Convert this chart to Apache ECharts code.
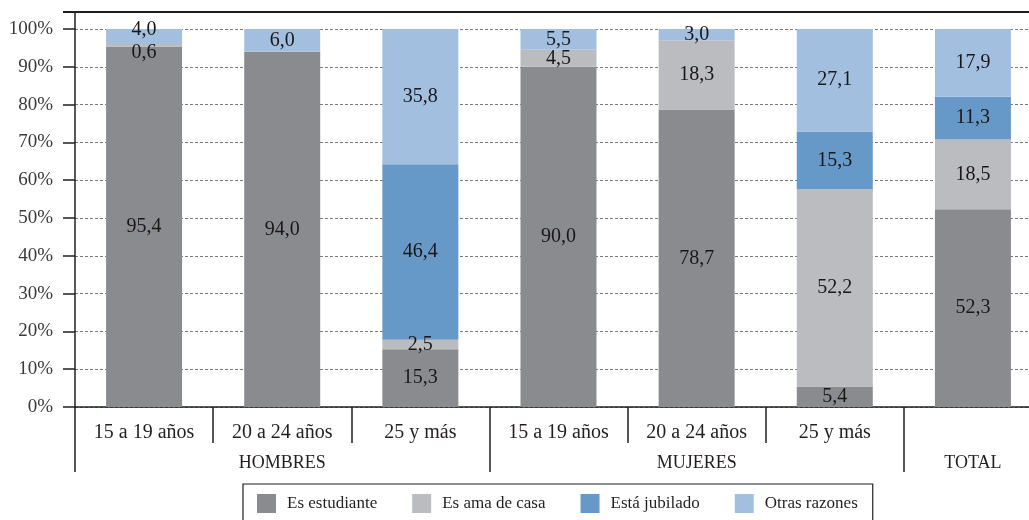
<!DOCTYPE html>
<html>
<head>
<meta charset="utf-8">
<script src="https://cdn.jsdelivr.net/npm/echarts@6/dist/echarts.min.js"></script>
<style>
html,body{margin:0;padding:0;background:#fff;}
#chart{width:1029px;height:520px;}
</style>
</head>
<body>
<div id="chart"></div>
<script>
// ---- data ----
const categories = ['15 a 19 años', '20 a 24 años', '25 y más', '15 a 19 años', '20 a 24 años', '25 y más', ''];
const groupLabels = ['', 'HOMBRES', '', '', 'MUJERES', '', 'TOTAL'];
const groupStarts = [0, 3, 6];
const seriesNames = ['Es estudiante', 'Es ama de casa', 'Está jubilado', 'Otras razones'];
const estudiante = [95.4, 94.0, 15.3, 90.0, 78.7, 5.4, 52.3];
const amaDeCasa = [0.6, 0, 2.5, 4.5, 18.3, 52.2, 18.5];
const jubilado = [0, 0, 46.4, 0, 0, 15.3, 11.3];
const otras = [4.0, 6.0, 35.8, 5.5, 3.0, 27.1, 17.9];
const yTicks = [0, 10, 20, 30, 40, 50, 60, 70, 80, 90, 100];

// ---- styling ----
const FONT = '"Liberation Serif", "DejaVu Serif", serif';
const colors = ['#8a8b8f', '#bbbcc0', '#6699c8', '#a3bfdf'];
const ink = '#231f20';
// small label nudges for the crowded first bar
const labelNudge = { '1-0': [0, 7], '3-0': [0, -7] };

const allValues = [estudiante, amaDeCasa, jubilado, otras];

function fmt(v) { return v.toFixed(1).replace('.', ','); }

const series = allValues.map((vals, si) => ({
  name: seriesNames[si],
  type: 'bar',
  stack: 'total',
  barWidth: 76,
  itemStyle: { color: colors[si] },
  data: vals.map((v, ci) => {
    const d = { value: v };
    const n = labelNudge[si + '-' + ci];
    if (n) d.label = { offset: n };
    return d;
  }),
  label: {
    show: true,
    position: 'inside',
    fontFamily: FONT,
    fontSize: 20,
    color: '#1a1718',
    formatter: p => (p.value ? fmt(p.value) : '')
  },
  emphasis: { disabled: true }
}));

const chart = echarts.init(document.getElementById('chart'), null, { renderer: 'canvas' });
chart.setOption({
  animation: false,
  backgroundColor: '#fff',
  grid: { left: 75, width: 967, top: 29, bottom: 113, containLabel: false, outerBoundsMode: 'none' },
  legend: {
    data: seriesNames,
    left: 243,
    top: 484,
    orient: 'horizontal',
    icon: 'rect',
    itemWidth: 19,
    itemHeight: 19,
    itemGap: 35,
    borderColor: ink,
    borderWidth: 1.2,
    padding: [10, 15, 20, 14],
    textStyle: { fontFamily: FONT, fontSize: 17, color: ink, padding: [0, 0, 0, 6] },
    selectedMode: false
  },
  xAxis: [
    {
      type: 'category',
      data: categories,
      position: 'bottom',
      axisLine: { show: true, lineStyle: { color: ink, width: 1.5 } },
      axisTick: { show: true, length: 36, inside: false, lineStyle: { color: ink, width: 1.5 } },
      axisLabel: { interval: 0, margin: 16, fontFamily: FONT, fontSize: 20, color: ink },
      splitLine: { show: false }
    },
    {
      type: 'category',
      data: groupLabels,
      position: 'bottom',
      gridIndex: 0,
      axisLine: { show: false },
      axisTick: {
        show: true, length: 65, inside: false,
        interval: (idx) => groupStarts.indexOf(idx) >= 0,
        lineStyle: { color: ink, width: 1.5 }
      },
      axisLabel: { interval: 0, margin: 47, fontFamily: FONT, fontSize: 18, color: ink },
      splitLine: { show: false }
    }
  ],
  yAxis: {
    type: 'value',
    min: yTicks[0],
    max: yTicks[yTicks.length - 1],
    interval: 10,
    axisLine: { show: true, lineStyle: { color: ink, width: 1.5 } },
    axisTick: { show: true, length: 12, inside: false, lineStyle: { color: ink, width: 1.5 } },
    axisLabel: { margin: 22, fontFamily: FONT, fontSize: 19, color: '#3a3a3a', formatter: '{value}%' },
    splitLine: { show: true, lineStyle: { color: '#7a7a7a', width: 1, type: [3, 2] } }
  },
  graphic: [
    { type: 'line', shape: { x1: 63, y1: 12, x2: 1029, y2: 12 }, style: { stroke: ink, lineWidth: 1.8 }, silent: true },
    { type: 'line', shape: { x1: 75, y1: 12, x2: 75, y2: 29 }, style: { stroke: ink, lineWidth: 1.5 }, silent: true }
  ],
  series: series
});
</script>
</body>
</html>
